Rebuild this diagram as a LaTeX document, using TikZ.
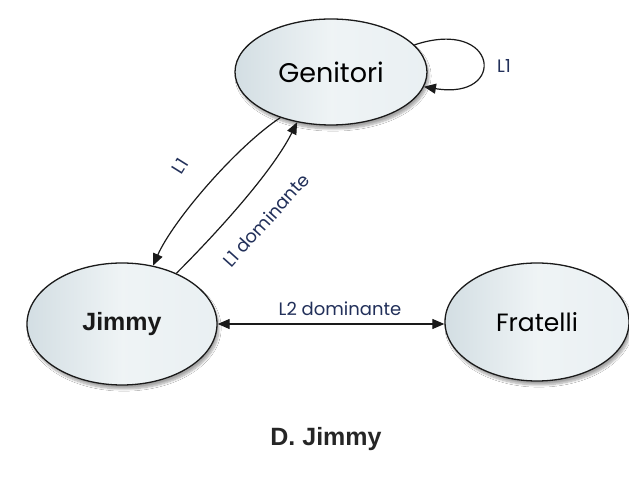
\documentclass[tikz,border=0pt]{standalone}
\usepackage{fontspec}
\setmainfont{Liberation Sans}
\newfontfamily\labelfont{Poppins}
\newfontfamily\handfont{Poppins}
\usetikzlibrary{arrows.meta,shapes.geometric,shadows.blur}

\definecolor{ellfill}{HTML}{E4ECEF}
\definecolor{ellshade}{HTML}{D3DEE3}
\definecolor{labelnavy}{HTML}{22305A}
\definecolor{linedark}{HTML}{1A1A1A}

\tikzset{
  person/.style={ellipse, draw=linedark, line width=1.3pt, inner sep=0pt,
    left color=ellshade, right color=ellfill!80!white, middle color=ellfill!60!white,
    blur shadow={shadow xshift=2pt, shadow yshift=-4pt, shadow opacity=35, shadow blur steps=8}},
  link/.style={draw=linedark, line width=1.2pt, -{Triangle[length=12pt,width=10pt]}},
  twoway/.style={draw=linedark, line width=1.2pt, {Triangle[length=12pt,width=10pt]}-{Triangle[length=12pt,width=10pt]}},
  lab/.style={font=\labelfont\fontsize{18}{20}\selectfont, text=labelnavy, inner sep=1pt},
}

\begin{document}
\begin{tikzpicture}[x=1pt,y=1pt]
  \useasboundingbox[fill=white] (0,0) rectangle (629,478);

  % the three people
  \node[person, minimum width=192pt, minimum height=106pt,
        font=\handfont\fontsize{27}{30}\selectfont] (gen) at (331,406) {Genitori};
  \node[person, minimum width=190pt, minimum height=122pt,
        font=\bfseries\fontsize{25}{28}\selectfont, text=black!90] (jim) at (122,154) {Jimmy};
  \node[person, minimum width=184pt, minimum height=118pt,
        font=\handfont\fontsize{25}{28}\selectfont] (fra) at (537,156) {Fratelli};

  % self loop on Genitori
  \draw[link] (gen.18) .. controls +(84,28) and +(84,-14) .. (gen.-9);
  \node[lab] (l1loop) at (504,412) {L1};

  % Genitori -> Jimmy
  \draw[link] (gen.222) .. controls +(-45,-30) and +(20,45) .. (jim.62);
  \node[lab, rotate=58] (l1down) at (180,312) {L1};

  % Jimmy -> Genitori
  \draw[link] (jim.43) .. controls +(40,40) and +(-25,-50) .. (gen.236);
  \node[lab, rotate=48] (l1dom) at (266,258) {L1 dominante};

  % Jimmy <-> Fratelli
  \draw[twoway] (jim.east) -- (jim.east -| fra.west);
  \node[lab] (l2dom) at (340,169) {L2 dominante};

  % caption
  \node[font=\bfseries\fontsize{25}{28}\selectfont, text=black!85] (cap) at (326,39) {D. Jimmy};
\end{tikzpicture}
\end{document}
